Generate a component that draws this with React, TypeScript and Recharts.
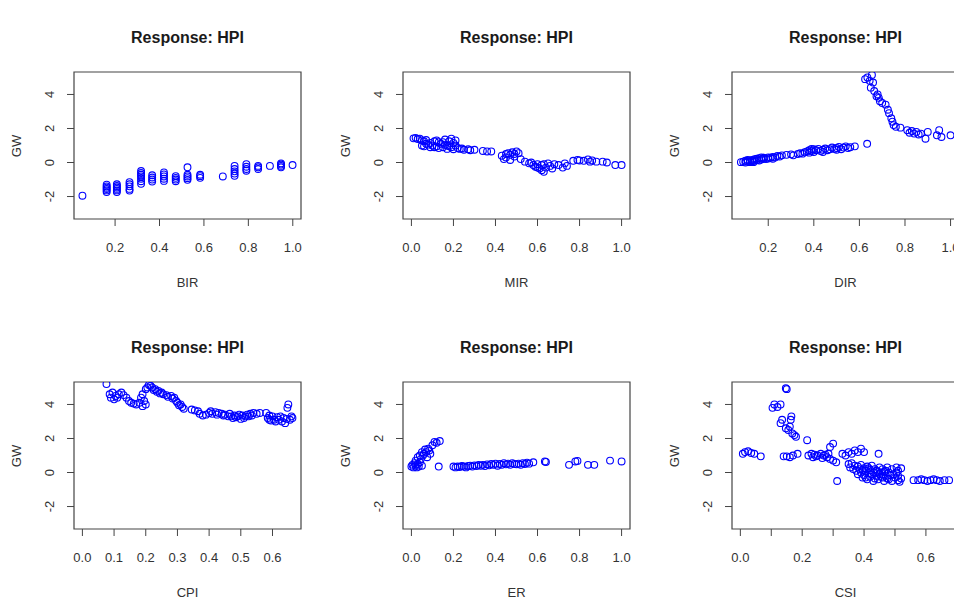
import React from "react";
import { ScatterChart, Scatter, XAxis, YAxis, ReferenceArea } from "recharts";

type Pt = [number, number];

// GW against each predictor
const birPoints: Pt[] = [
  [0.053, -1.95],
  [0.162, -1.3], [0.162, -1.4], [0.162, -1.48], [0.162, -1.56], [0.162, -1.64], [0.162, -1.74],
  [0.208, -1.28], [0.208, -1.38], [0.208, -1.47], [0.208, -1.55], [0.208, -1.64], [0.208, -1.74],
  [0.265, -1.15], [0.265, -1.28], [0.265, -1.4], [0.265, -1.55], [0.265, -1.65],
  [0.317, -0.5], [0.317, -0.62], [0.317, -0.72], [0.317, -0.82], [0.317, -0.95], [0.317, -1.1], [0.317, -1.25],
  [0.367, -0.75], [0.367, -0.88], [0.367, -1.0], [0.367, -1.12],
  [0.42, -0.58], [0.42, -0.7], [0.42, -0.82], [0.42, -0.95], [0.42, -1.08],
  [0.473, -0.8], [0.473, -0.9], [0.473, -1.0], [0.473, -1.1],
  [0.526, -0.28], [0.526, -0.72], [0.526, -0.82], [0.526, -0.92], [0.526, -1.02],
  [0.583, -0.72], [0.583, -0.8], [0.583, -0.9],
  [0.685, -0.82],
  [0.738, -0.2], [0.738, -0.38], [0.738, -0.52], [0.738, -0.65], [0.738, -0.78],
  [0.791, -0.1], [0.791, -0.25], [0.791, -0.38], [0.791, -0.48],
  [0.844, -0.2], [0.844, -0.28], [0.844, -0.38],
  [0.897, -0.2],
  [0.947, -0.05], [0.947, -0.12], [0.947, -0.2], [0.947, -0.28],
  [0.999, -0.15],
];

const mirPoints: Pt[] = [
  [0.01, 1.42], [0.02, 1.45], [0.03, 1.38], [0.04, 1.4], [0.05, 1.3], [0.06, 1.25], [0.07, 1.32],
  [0.05, 1.0], [0.06, 0.95], [0.08, 1.05], [0.09, 0.9], [0.1, 1.0], [0.11, 1.25], [0.12, 1.3],
  [0.12, 0.95], [0.13, 0.85], [0.14, 1.1], [0.15, 1.2], [0.15, 0.9], [0.16, 1.35], [0.17, 1.0],
  [0.17, 0.8], [0.18, 1.25], [0.19, 1.4], [0.19, 0.9], [0.2, 1.15], [0.2, 0.78], [0.21, 1.3],
  [0.07, 1.1], [0.09, 1.15], [0.11, 0.9], [0.13, 1.2], [0.16, 1.05], [0.18, 0.95], [0.21, 1.0],
  [0.22, 0.85], [0.23, 0.8], [0.24, 0.82], [0.25, 0.75], [0.27, 0.78], [0.28, 0.72], [0.3, 0.75],
  [0.34, 0.68], [0.36, 0.65], [0.38, 0.65],
  [0.43, 0.4], [0.44, 0.2], [0.45, 0.3], [0.46, 0.55], [0.47, 0.15], [0.47, 0.45], [0.48, 0.6],
  [0.49, 0.35], [0.5, 0.65], [0.51, 0.55], [0.52, 0.2], [0.45, 0.5], [0.49, 0.5],
  [0.54, 0.05], [0.56, -0.05], [0.57, 0.0], [0.58, -0.15], [0.59, -0.25], [0.6, -0.1], [0.61, -0.35],
  [0.62, -0.45], [0.62, -0.15], [0.63, -0.55], [0.64, -0.3], [0.65, -0.05], [0.66, -0.2], [0.67, -0.35],
  [0.68, -0.1], [0.7, -0.15], [0.72, -0.3], [0.73, -0.05], [0.74, -0.2], [0.6, -0.3], [0.63, -0.1],
  [0.77, 0.1], [0.79, 0.15], [0.8, 0.12], [0.82, 0.1], [0.84, 0.18], [0.85, 0.05], [0.86, 0.12],
  [0.88, 0.05], [0.91, 0.05], [0.93, 0.0], [0.97, -0.15], [1.0, -0.15],
];

const dirPoints: Pt[] = [
  [0.08, 0.02], [0.09, 0.05], [0.1, 0.0], [0.1, 0.1], [0.11, 0.06], [0.12, 0.12], [0.12, 0.02],
  [0.13, 0.15], [0.13, 0.08], [0.14, 0.1], [0.14, 0.2], [0.15, 0.14], [0.15, 0.22], [0.16, 0.12],
  [0.16, 0.25], [0.17, 0.18], [0.18, 0.22], [0.18, 0.28], [0.19, 0.2], [0.2, 0.3], [0.2, 0.24],
  [0.21, 0.28], [0.22, 0.32], [0.23, 0.3], [0.24, 0.38], [0.25, 0.35], [0.26, 0.42], [0.28, 0.45],
  [0.3, 0.48], [0.31, 0.42], [0.33, 0.5], [0.34, 0.55], [0.35, 0.52], [0.36, 0.6], [0.37, 0.65],
  [0.38, 0.72], [0.38, 0.58], [0.39, 0.68], [0.4, 0.78], [0.4, 0.62], [0.41, 0.72], [0.42, 0.8],
  [0.43, 0.68], [0.44, 0.75], [0.45, 0.82], [0.46, 0.72], [0.47, 0.78], [0.48, 0.88], [0.49, 0.8],
  [0.5, 0.85], [0.51, 0.92], [0.52, 0.78], [0.53, 0.88], [0.54, 0.95], [0.55, 0.85], [0.56, 0.9],
  [0.11, 0.15], [0.135, 0.02], [0.17, 0.3], [0.22, 0.22], [0.39, 0.8], [0.44, 0.62], [0.5, 0.75],
  [0.58, 0.95], [0.634, 1.1],
  [0.625, 4.9], [0.635, 5.0], [0.645, 4.8], [0.655, 5.15], [0.66, 4.7], [0.65, 4.4], [0.665, 4.2],
  [0.675, 3.9], [0.68, 4.0], [0.685, 3.8], [0.69, 3.6], [0.7, 3.5], [0.715, 3.4], [0.725, 3.1],
  [0.73, 2.9], [0.74, 2.6], [0.745, 2.4], [0.75, 2.2], [0.76, 2.1], [0.78, 2.05], [0.81, 1.9],
  [0.82, 1.75], [0.83, 1.85], [0.84, 1.7], [0.85, 1.8], [0.86, 1.65], [0.87, 1.7], [0.89, 1.4],
  [0.9, 1.8], [0.94, 1.6], [0.95, 1.9], [0.96, 1.5], [1.0, 1.6],
];

const cpiPoints: Pt[] = [
  [0.076, 5.2], [0.086, 4.6], [0.09, 4.4], [0.095, 4.7], [0.1, 4.3], [0.105, 4.5], [0.11, 4.4],
  [0.115, 4.6], [0.123, 4.7], [0.13, 4.55], [0.139, 4.4], [0.147, 4.2], [0.154, 4.1], [0.162, 4.05],
  [0.17, 4.0], [0.18, 4.1], [0.185, 4.4], [0.19, 4.6], [0.19, 3.9], [0.195, 4.2], [0.2, 4.0],
  [0.2, 4.9], [0.205, 5.0], [0.21, 5.15], [0.215, 5.1], [0.22, 5.0], [0.225, 4.85], [0.23, 4.9],
  [0.235, 4.75], [0.24, 4.8], [0.245, 4.65], [0.25, 4.7], [0.255, 4.6], [0.265, 4.55], [0.27, 4.45],
  [0.28, 4.5], [0.285, 4.35], [0.29, 4.4], [0.296, 4.2], [0.3, 4.1], [0.305, 3.95], [0.31, 4.0],
  [0.315, 3.85], [0.32, 3.75], [0.345, 3.7], [0.355, 3.65], [0.365, 3.6], [0.37, 3.45], [0.38, 3.35],
  [0.39, 3.4], [0.4, 3.5], [0.405, 3.6], [0.41, 3.45], [0.42, 3.55], [0.425, 3.4], [0.43, 3.5],
  [0.44, 3.45], [0.445, 3.35], [0.45, 3.4], [0.46, 3.3], [0.465, 3.45], [0.47, 3.3], [0.48, 3.35],
  [0.485, 3.25], [0.49, 3.3], [0.5, 3.15], [0.505, 3.35], [0.51, 3.2], [0.515, 3.3], [0.52, 3.4],
  [0.525, 3.3], [0.53, 3.45], [0.535, 3.35], [0.54, 3.5], [0.55, 3.45], [0.56, 3.5], [0.58, 3.5],
  [0.585, 3.2], [0.59, 3.35], [0.595, 3.05], [0.6, 3.3], [0.605, 3.1], [0.61, 3.0], [0.615, 3.25],
  [0.62, 3.1], [0.625, 3.3], [0.63, 3.0], [0.635, 3.2], [0.64, 2.9], [0.645, 3.15], [0.647, 3.8],
  [0.65, 4.0], [0.655, 3.1], [0.66, 3.3], [0.663, 3.2], [0.475, 3.2], [0.495, 3.4], [0.59, 3.1],
];

const erPoints: Pt[] = [
  [0.0, 0.35], [0.005, 0.45], [0.01, 0.3], [0.015, 0.55], [0.02, 0.4], [0.02, 0.7], [0.025, 0.3],
  [0.03, 0.9], [0.03, 0.5], [0.035, 0.35], [0.04, 1.0], [0.04, 0.6], [0.045, 0.8], [0.05, 1.2],
  [0.05, 0.4], [0.055, 1.0], [0.06, 1.1], [0.065, 1.35], [0.07, 1.2], [0.075, 0.9], [0.08, 1.4],
  [0.085, 1.3], [0.09, 1.1], [0.1, 1.6], [0.11, 1.8], [0.12, 1.75], [0.13, 0.35], [0.135, 1.85],
  [0.2, 0.35], [0.21, 0.3], [0.22, 0.35], [0.23, 0.32], [0.24, 0.38], [0.25, 0.35], [0.26, 0.3],
  [0.27, 0.38], [0.28, 0.4], [0.29, 0.35], [0.3, 0.42], [0.31, 0.38], [0.32, 0.45], [0.33, 0.4],
  [0.34, 0.45], [0.35, 0.38], [0.36, 0.48], [0.37, 0.42], [0.38, 0.5], [0.39, 0.45], [0.4, 0.52],
  [0.41, 0.4], [0.42, 0.5], [0.43, 0.45], [0.44, 0.55], [0.45, 0.48], [0.46, 0.52], [0.47, 0.45],
  [0.48, 0.55], [0.49, 0.5], [0.5, 0.48], [0.51, 0.52], [0.52, 0.45], [0.53, 0.55], [0.54, 0.5],
  [0.55, 0.58], [0.56, 0.52], [0.58, 0.6], [0.635, 0.65], [0.64, 0.62], [0.75, 0.45], [0.78, 0.65],
  [0.79, 0.68], [0.84, 0.45], [0.87, 0.45], [0.945, 0.7], [1.0, 0.65],
];

const csiPoints: Pt[] = [
  [0.008, 1.1], [0.015, 1.2], [0.025, 1.25], [0.035, 1.15], [0.045, 1.1], [0.066, 0.95],
  [0.104, 3.8], [0.11, 4.0], [0.12, 3.85], [0.13, 4.0], [0.147, 4.95], [0.15, 4.9],
  [0.13, 2.9], [0.135, 3.1], [0.163, 3.1], [0.165, 3.3], [0.16, 2.7], [0.147, 2.6], [0.155, 2.5],
  [0.168, 2.3], [0.175, 2.2], [0.18, 2.1], [0.216, 1.9],
  [0.14, 0.95], [0.15, 0.95], [0.16, 0.9], [0.17, 1.0], [0.185, 1.1],
  [0.22, 1.0], [0.23, 1.1], [0.235, 0.9], [0.24, 1.05], [0.245, 0.95], [0.25, 1.0], [0.26, 1.1],
  [0.265, 0.85], [0.27, 1.0], [0.275, 1.05], [0.28, 0.9], [0.285, 1.1], [0.29, 1.5], [0.3, 1.7],
  [0.29, 0.8], [0.3, 0.7], [0.31, 0.6], [0.313, -0.5],
  [0.33, 1.1], [0.34, 1.0], [0.35, 1.2], [0.36, 1.1], [0.37, 1.3], [0.38, 1.2], [0.39, 1.4],
  [0.4, 1.2], [0.447, 1.1],
  [0.35, 0.5], [0.355, 0.3], [0.36, 0.55], [0.365, 0.2], [0.37, 0.4], [0.375, 0.1], [0.38, 0.35],
  [0.38, -0.1], [0.385, 0.2], [0.39, 0.45], [0.39, 0.0], [0.395, -0.3], [0.4, 0.25], [0.4, -0.15],
  [0.405, 0.1], [0.41, 0.35], [0.41, -0.4], [0.415, -0.05], [0.42, 0.15], [0.42, -0.25], [0.425, 0.4],
  [0.43, 0.0], [0.43, -0.5], [0.435, 0.2], [0.44, -0.2], [0.44, 0.1], [0.445, -0.4], [0.45, 0.3],
  [0.45, -0.1], [0.455, 0.0], [0.46, -0.3], [0.46, 0.2], [0.465, -0.5], [0.47, 0.1], [0.47, -0.2],
  [0.475, 0.3], [0.48, -0.4], [0.48, 0.0], [0.485, -0.15], [0.49, 0.2], [0.49, -0.5], [0.5, -0.3],
  [0.505, 0.0], [0.51, -0.45], [0.515, -0.55], [0.52, 0.25], [0.52, -0.35], [0.505, 0.3],
  [0.395, 0.15], [0.405, -0.3], [0.415, 0.25], [0.425, -0.1], [0.435, -0.35], [0.445, 0.05],
  [0.455, -0.25], [0.465, 0.05], [0.475, -0.35], [0.495, -0.1], [0.51, 0.1], [0.51, -0.2],
  [0.56, -0.45], [0.575, -0.45], [0.585, -0.4], [0.595, -0.45], [0.605, -0.5], [0.615, -0.45],
  [0.625, -0.4], [0.635, -0.45], [0.645, -0.5], [0.66, -0.45], [0.675, -0.45],
];

// axes
const gwTicks = [-2, 0, 2, 4];
const gwDomain: [number, number] = [-3.32, 5.32];
const unitTicks = [0, 0.2, 0.4, 0.6, 0.8, 1.0];
const partTicks = [0.2, 0.4, 0.6, 0.8, 1.0];
const tenthTicks = [0, 0.1, 0.2, 0.3, 0.4, 0.5, 0.6];
const csiLabelled = [0, 0.2, 0.4, 0.6];

const panels = [
  { name: "BIR", points: birPoints, domain: [0.015, 1.037], ticks: partTicks, labelled: partTicks },
  { name: "MIR", points: mirPoints, domain: [-0.04, 1.04], ticks: unitTicks, labelled: unitTicks },
  { name: "DIR", points: dirPoints, domain: [0.041, 1.037], ticks: partTicks, labelled: partTicks },
  { name: "CPI", points: cpiPoints, domain: [-0.0265, 0.69], ticks: tenthTicks, labelled: tenthTicks },
  { name: "ER", points: erPoints, domain: [-0.04, 1.04], ticks: unitTicks, labelled: unitTicks },
  { name: "CSI", points: csiPoints, domain: [-0.027, 0.707], ticks: tenthTicks, labelled: csiLabelled },
];

const PANEL_W = 330;
const PANEL_H = 310;
const LEFT = 74;
const TOP = 72;
const BOX_W = 227;
const BOX_H = 147;
const FONT = "'Liberation Sans', Arial, Helvetica, sans-serif";
const colLefts = [0, 329, 658];

function Dot(props: any) {
  return <circle cx={props.cx} cy={props.cy} r={3.4} fill="none" stroke="#0000ff" strokeWidth={1.1} />;
}

function Panel({ panel, index }: { panel: (typeof panels)[number]; index: number }) {
  const left = colLefts[index % 3];
  const top = Math.floor(index / 3) * PANEL_H;
  const data = panel.points.map(([x, y]) => ({ x, y }));
  const xDomain = panel.domain as [number, number];

  return (
    <div style={{ position: "absolute", left, top, width: PANEL_W, height: PANEL_H }}>
      <div
        style={{
          position: "absolute",
          left: LEFT + BOX_W / 2,
          top: 38,
          transform: "translate(-50%, -50%)",
          fontFamily: FONT,
          fontWeight: "bold",
          fontSize: 16,
          color: "#1a1a1a",
          whiteSpace: "nowrap",
        }}
      >
        Response: HPI
      </div>
      <ScatterChart
        width={PANEL_W}
        height={PANEL_H}
        margin={{ top: TOP, right: PANEL_W - LEFT - BOX_W, bottom: PANEL_H - TOP - BOX_H - 40, left: 0 }}
      >
        <XAxis
          type="number"
          dataKey="x"
          domain={xDomain}
          ticks={panel.ticks}
          interval={0}
          allowDataOverflow
          height={40}
          axisLine={false}
          tickSize={7}
          tickMargin={0}
          tickLine={{ stroke: "#444" }}
          tick={(p: any) =>
            panel.labelled.includes(p.payload.value) ? (
              <text
                x={p.x}
                y={p.y + 26}
                textAnchor="middle"
                fontFamily={FONT}
                fontSize={13}
                fill="#333"
              >
                {p.payload.value.toFixed(1)}
              </text>
            ) : (
              <g />
            )
          }
        />
        <YAxis
          type="number"
          dataKey="y"
          domain={gwDomain}
          ticks={gwTicks}
          interval={0}
          allowDataOverflow
          width={LEFT}
          axisLine={false}
          tickSize={7}
          tickMargin={0}
          tickLine={{ stroke: "#444" }}
          tick={(p: any) => {
            const bx = p.x - 13;
            return (
              <text
                x={bx}
                y={p.y}
                transform={`rotate(-90 ${bx} ${p.y})`}
                textAnchor="middle"
                fontFamily={FONT}
                fontSize={13}
                fill="#333"
              >
                {String(p.payload.value)}
              </text>
            );
          }}
        />
        <ReferenceArea
          x1={xDomain[0]}
          x2={xDomain[1]}
          y1={gwDomain[0]}
          y2={gwDomain[1]}
          fill="none"
          fillOpacity={0}
          stroke="#444"
          strokeWidth={1.2}
          ifOverflow="visible"
        />
        <Scatter data={data} shape={Dot} isAnimationActive={false} />
      </ScatterChart>
      <div
        style={{
          position: "absolute",
          left: LEFT + BOX_W / 2,
          top: TOP + BOX_H + 63,
          transform: "translate(-50%, -50%)",
          fontFamily: FONT,
          fontSize: 13,
          color: "#333",
        }}
      >
        {panel.name}
      </div>
      <div
        style={{
          position: "absolute",
          left: 16,
          top: TOP + BOX_H / 2,
          transform: "translate(-50%, -50%) rotate(-90deg)",
          fontFamily: FONT,
          fontSize: 13,
          color: "#333",
        }}
      >
        GW
      </div>
    </div>
  );
}

export default function App() {
  return (
    <div
      style={{
        position: "absolute",
        left: 0,
        top: 0,
        width: 954,
        height: 598,
        overflow: "hidden",
        background: "#fff",
      }}
    >
      {panels.map((p, i) => (
        <Panel key={p.name} panel={p} index={i} />
      ))}
    </div>
  );
}
